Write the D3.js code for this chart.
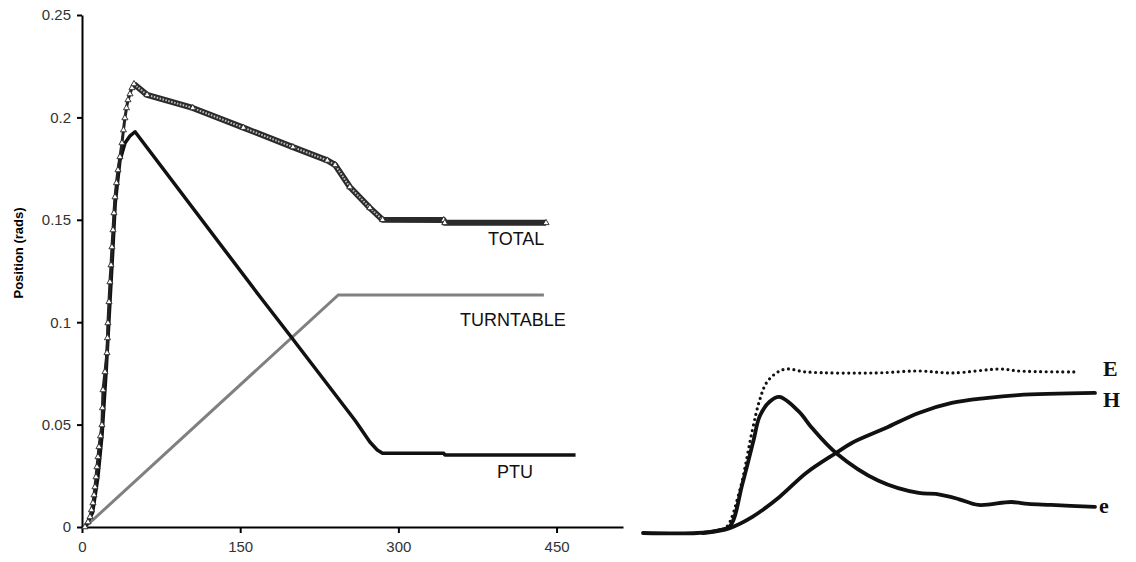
<!DOCTYPE html>
<html>
<head>
<meta charset="utf-8">
<script src="https://cdn.jsdelivr.net/npm/d3@7"></script>
<style>
  body { margin: 0; background: #fff; }
  svg { display: block; }
</style>
</head>
<body>
<div id="chart"></div>
<script>
// left chart: position vs time
var xTicks = [0, 150, 300, 450];
var yTicks = [0, 0.05, 0.1, 0.15, 0.2, 0.25];
var yTickLabels = ["0", "0.05", "0.1", "0.15", "0.2", "0.25"];

var totalData = [
  [2.8, 0], [5.7, 0.0024], [7.6, 0.0049], [9, 0.0083], [10.4, 0.0117], [11.4, 0.0156],
  [12.3, 0.0195], [13.3, 0.0244], [14.2, 0.0293], [15.2, 0.0342], [16.1, 0.0391],
  [17.5, 0.0444], [18.9, 0.0498], [19.4, 0.0581], [19.9, 0.0669], [21.8, 0.0757],
  [23.7, 0.085], [24.2, 0.0923], [24.6, 0.0996], [25.6, 0.1099], [26.5, 0.1196],
  [27.5, 0.1279], [28.4, 0.1367], [29.4, 0.145], [30.3, 0.1533], [31.3, 0.1611],
  [32.7, 0.168], [34.1, 0.1743], [36, 0.1807], [37.9, 0.1875], [39.3, 0.1938],
  [40.7, 0.1997], [42.2, 0.2046], [43.6, 0.2085], [45.5, 0.2114], [47.4, 0.2144],
  [49.3, 0.2163], [61.7, 0.211], [105, 0.2046], [153, 0.195], [200, 0.1855],
  [232.6, 0.179], [240, 0.1768], [254, 0.166], [273, 0.1558], [285, 0.150],
  [343, 0.1499], [344, 0.1485], [440, 0.1485]
];
var turntableData = [[3, 0], [243, 0.1133], [438, 0.1133]];
var ptuData = [
  [3, 0], [10, 0.007], [15, 0.024], [19, 0.045], [23, 0.077], [26, 0.105], [29, 0.133],
  [31.5, 0.158], [36, 0.179], [40.8, 0.1875], [45.6, 0.191], [50.3, 0.193],
  [169, 0.1123], [198, 0.093], [259, 0.052],
  [273, 0.0415], [280, 0.0376], [285, 0.036], [343, 0.036], [344, 0.0352], [468, 0.0352]
];

// right panel: E, H, e curves (no axes, arbitrary units)
var eData = [
  [0, 0], [12, 0], [16.5, 0.015], [19.2, 0.04], [22, 0.3], [24.5, 0.57], [25.8, 0.71],
  [28, 0.8], [30.2, 0.83], [34.5, 0.74], [37.4, 0.64], [42.7, 0.488], [52, 0.32],
  [61, 0.244], [64.8, 0.238], [69.8, 0.207], [74.2, 0.171], [81.5, 0.189],
  [85.2, 0.177], [90.3, 0.171], [100, 0.159]
];
var hData = [
  [13.2, 0], [19.2, 0.03], [24.2, 0.098], [30.2, 0.22], [36.1, 0.366], [42.7, 0.488],
  [46.2, 0.549], [53.7, 0.64], [61, 0.732], [68.3, 0.793], [75.8, 0.823], [83, 0.841],
  [100, 0.854]
];
var bigEData = [
  [16.5, 0.015], [18.5, 0.037], [21.4, 0.26], [24.2, 0.628], [25.8, 0.81], [27.3, 0.915],
  [29.5, 0.976], [31.7, 1.0], [36.1, 0.982], [51.5, 0.976], [61, 0.988], [68.3, 0.976],
  [79.3, 1.0], [83, 0.988], [96.3, 0.982]
];

var width = 1136, height = 562;
var svg = d3.select("#chart").append("svg")
  .attr("width", width)
  .attr("height", height);

var x = d3.scaleLinear().domain([0, 513]).range([82, 623]);
var y = d3.scaleLinear().domain([0, 0.25]).range([527, 15]);

// axes
var xAxis = svg.append("g")
  .attr("transform", "translate(0," + y(0) + ")")
  .call(d3.axisBottom(x).tickValues(xTicks).tickSize(6).tickPadding(8).tickSizeOuter(0));
var yAxis = svg.append("g")
  .attr("transform", "translate(" + x(0) + ",0)")
  .call(d3.axisLeft(y).tickValues(yTicks).tickSize(5).tickPadding(6).tickSizeOuter(0)
    .tickFormat(function(d, i) { return yTickLabels[i]; }));

[xAxis, yAxis].forEach(function(a) {
  a.select(".domain").attr("stroke", "#000").attr("stroke-width", 2);
  a.selectAll(".tick line").attr("stroke", "#000").attr("stroke-width", 2);
  a.selectAll(".tick text")
    .style("font-family", "'Liberation Sans', Arial, sans-serif")
    .style("font-size", "15px")
    .attr("fill", "#333");
});

svg.append("text")
  .attr("transform", "translate(23,253) rotate(-90)")
  .attr("text-anchor", "middle")
  .style("font-family", "'Liberation Sans', Arial, sans-serif")
  .style("font-size", "13px")
  .style("font-weight", "bold")
  .text("Position (rads)");

var line = d3.line()
  .x(function(d) { return x(d[0]); })
  .y(function(d) { return y(d[1]); });

svg.append("path")
  .datum(turntableData)
  .attr("d", line)
  .attr("fill", "none")
  .attr("stroke", "#808080")
  .attr("stroke-width", 3);

svg.append("path")
  .datum(ptuData)
  .attr("d", line)
  .attr("fill", "none")
  .attr("stroke", "#111")
  .attr("stroke-width", 3.5)
  .attr("stroke-linejoin", "round");

// total: dark band with hatched inside on the falling part
svg.append("path")
  .datum(totalData)
  .attr("d", line)
  .attr("fill", "none")
  .attr("stroke", "#222")
  .attr("stroke-width", 3)
  .attr("stroke-linejoin", "round");

svg.append("path")
  .datum(totalData.filter(function(d) { return d[0] >= 49; }))
  .attr("d", line)
  .attr("fill", "none")
  .attr("stroke", "#2a2a2a")
  .attr("stroke-width", 6)
  .attr("stroke-linejoin", "round");

svg.append("path")
  .datum(totalData.filter(function(d) { return d[0] >= 49 && d[0] <= 285; }))
  .attr("d", line)
  .attr("fill", "none")
  .attr("stroke", "#bdbdbd")
  .attr("stroke-width", 2)
  .attr("stroke-dasharray", "1.6 1.4");

svg.selectAll(".tri")
  .data(totalData)
  .enter()
  .append("path")
  .attr("class", "tri")
  .attr("d", d3.symbol().type(d3.symbolTriangle).size(16))
  .attr("transform", function(d) { return "translate(" + x(d[0]) + "," + y(d[1]) + ")"; })
  .attr("fill", "#fff")
  .attr("stroke", "#222")
  .attr("stroke-width", 0.9);

var labelStyle = function(t) {
  t.style("font-family", "'Liberation Sans', Arial, sans-serif")
    .style("font-size", "18px")
    .attr("fill", "#111");
};
svg.append("text").attr("x", 488).attr("y", 245).text("TOTAL").call(labelStyle);
svg.append("text").attr("x", 460).attr("y", 326).text("TURNTABLE").call(labelStyle);
svg.append("text").attr("x", 497).attr("y", 478).text("PTU").call(labelStyle);

// right panel
var x2 = d3.scaleLinear().domain([0, 100]).range([643, 1095]);
var y2 = d3.scaleLinear().domain([0, 1]).range([533, 369]);

var smooth = d3.line()
  .x(function(d) { return x2(d[0]); })
  .y(function(d) { return y2(d[1]); })
  .curve(d3.curveCatmullRom.alpha(0.5));

svg.append("path")
  .datum(bigEData)
  .attr("d", smooth)
  .attr("fill", "none")
  .attr("stroke", "#111")
  .attr("stroke-width", 3.2)
  .attr("stroke-linecap", "round")
  .attr("stroke-dasharray", "0 5.5");

[hData, eData].forEach(function(data) {
  svg.append("path")
    .datum(data)
    .attr("d", smooth)
    .attr("fill", "none")
    .attr("stroke", "#111")
    .attr("stroke-width", 3.8)
    .attr("stroke-linecap", "round")
    .attr("stroke-linejoin", "round");
});

var serif = function(t) {
  t.style("font-family", "'Liberation Serif', 'Times New Roman', serif")
    .style("font-size", "22px")
    .style("font-weight", "bold")
    .attr("fill", "#111");
};
svg.append("text").attr("x", 1103).attr("y", 376).text("E").call(serif);
svg.append("text").attr("x", 1103).attr("y", 407).text("H").call(serif);
svg.append("text").attr("x", 1099).attr("y", 513).text("e").call(serif);
</script>
</body>
</html>
